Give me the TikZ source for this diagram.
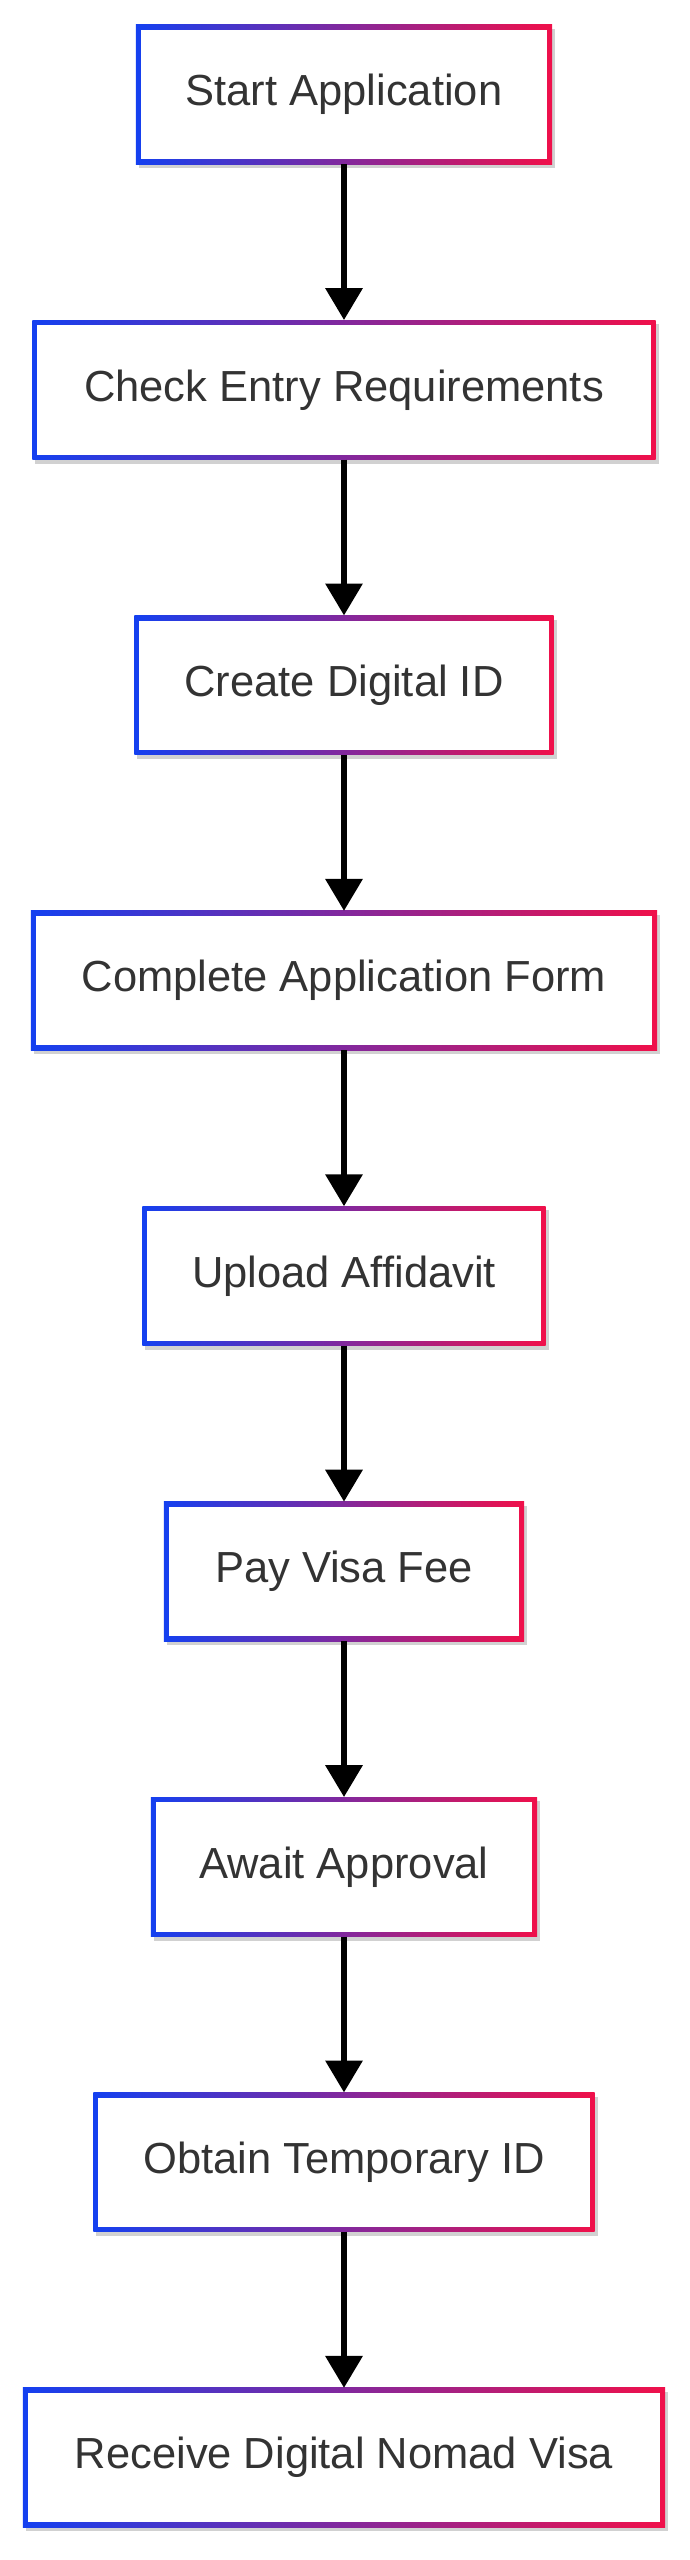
\documentclass[tikz,border=0pt]{standalone}
\usepackage{fontspec}
\setmainfont{Liberation Sans}
\usetikzlibrary{backgrounds,arrows.meta}
\definecolor{gblue}{HTML}{1440F0}
\definecolor{gred}{HTML}{F0104A}
\definecolor{txt}{HTML}{333333}
\tikzset{
  stepbox/.style={minimum height=139pt, inner sep=0pt, font=\fontsize{43.5}{46}\selectfont, text=txt},
  flow/.style={line width=6.5pt, -{Triangle[length=32pt,width=36pt]}}
}
\newcommand{\gbox}[1]{%
  \begin{scope}[on background layer]
    \fill[black!18] ([shift={(3pt,-4pt)}]#1.south west) rectangle ([shift={(3pt,-4pt)}]#1.north east);
    \shade[left color=gblue,right color=gred] (#1.south west) rectangle (#1.north east);
    \fill[white] ([shift={(5pt,5pt)}]#1.south west) rectangle ([shift={(-5pt,-5pt)}]#1.north east);
  \end{scope}}
\begin{document}
\begin{tikzpicture}[x=1pt,y=-1pt]
\useasboundingbox (0,0) rectangle (690,2560);
\node[stepbox,minimum width=416pt] (n1) at (344,94.4) {Start Application};
\node[stepbox,minimum width=623pt] (n2) at (344,389.8) {Check Entry Requirements};
\node[stepbox,minimum width=419pt] (n3) at (344,685.2) {Create Digital ID};
\node[stepbox,minimum width=626pt] (n4) at (344,980.6) {Complete Application Form};
\node[stepbox,minimum width=403pt] (n5) at (344,1276) {Upload Affidavit};
\node[stepbox,minimum width=360pt] (n6) at (344,1571.4) {Pay Visa Fee};
\node[stepbox,minimum width=386pt] (n7) at (344,1866.8) {Await Approval};
\node[stepbox,minimum width=501pt] (n8) at (344,2162.2) {Obtain Temporary ID};
\node[stepbox,minimum width=642pt] (n9) at (344,2457.6) {Receive Digital Nomad Visa};
\foreach \i in {1,...,9}{\gbox{n\i}}
\foreach \a/\b in {1/2,2/3,3/4,4/5,5/6,6/7,7/8,8/9}{\draw[flow] (n\a.south) -- (n\b.north);}
\end{tikzpicture}
\end{document}
